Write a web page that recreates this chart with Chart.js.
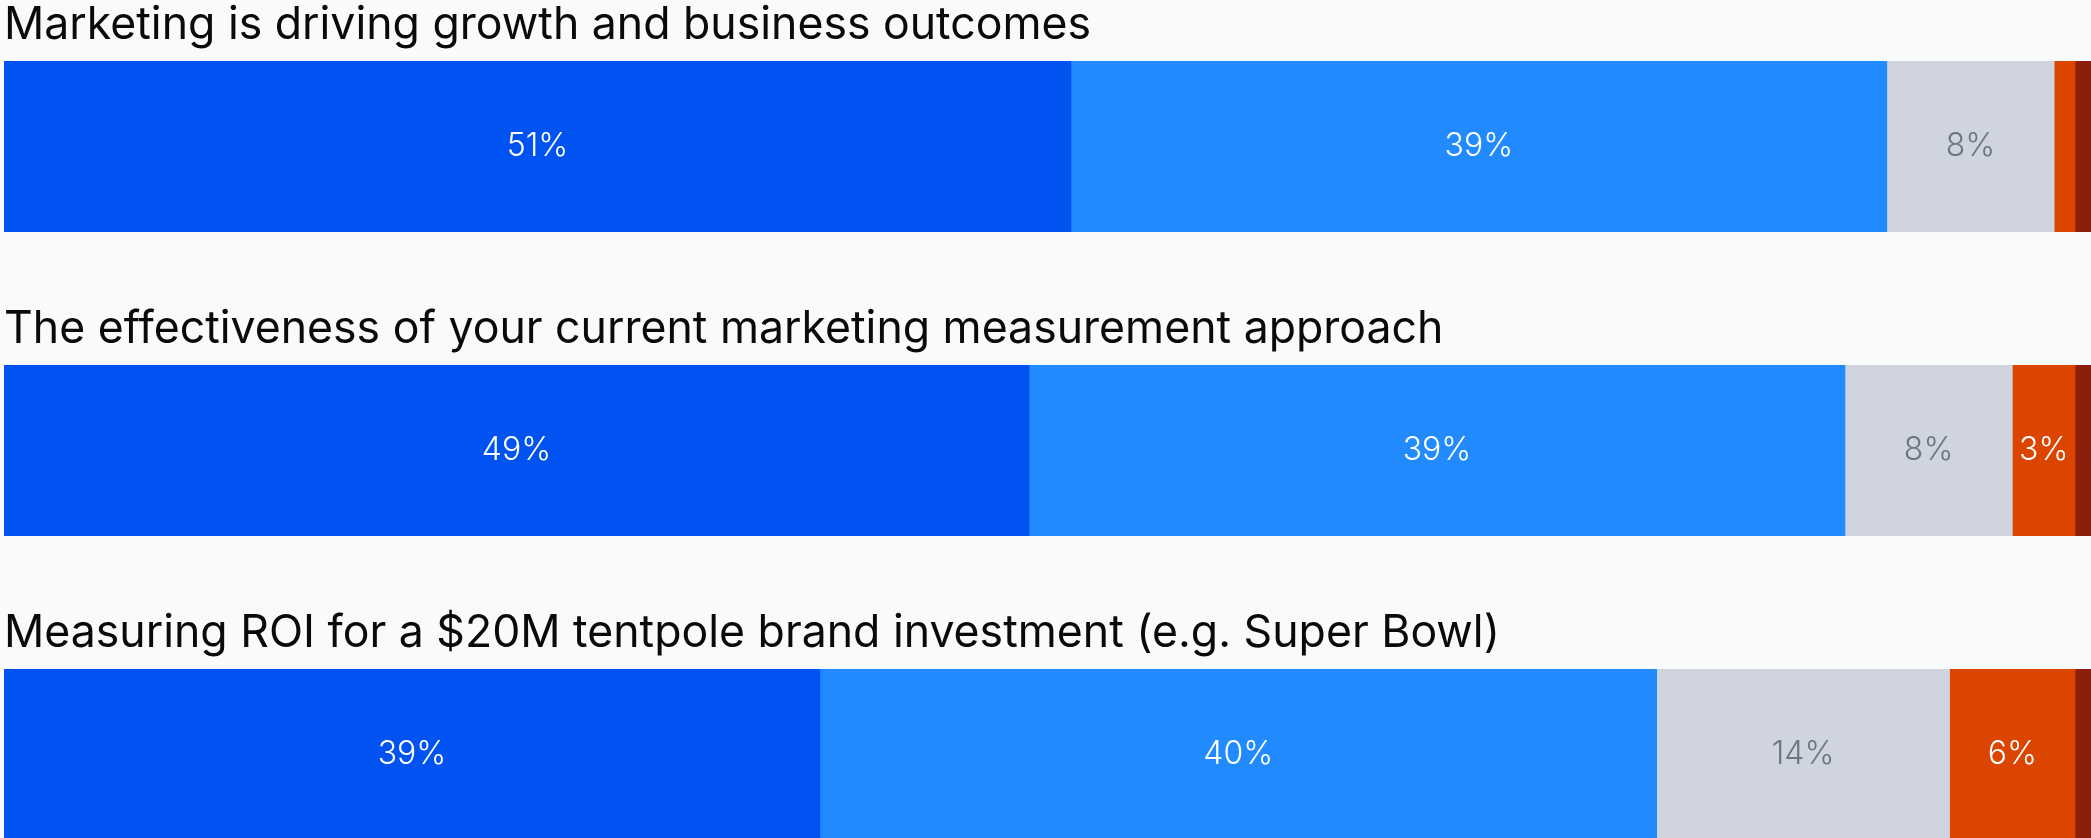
<!DOCTYPE html>
<html>
<head>
<meta charset="utf-8">
<script src="https://cdn.jsdelivr.net/npm/chart.js@4.4.1/dist/chart.umd.min.js"></script>
<style>
  html, body { margin: 0; padding: 0; background: #f9fafc; overflow: hidden; }
  .row { position: relative; width: 2096px; height: 304px; }
</style>
</head>
<body>
<div class="row"><canvas id="chart0"></canvas></div>
<div class="row"><canvas id="chart1"></canvas></div>
<div class="row"><canvas id="chart2"></canvas></div>
<script>
// Survey questions and share of responses (%) per answer level
const questions = [
    'Marketing is driving growth and business outcomes',
    'The effectiveness of your current marketing measurement approach',
    'Measuring ROI for a $20M tentpole brand investment (e.g. Super Bowl)'
];
const levels = ['Very confident', 'Confident', 'Neutral', 'Not confident', 'Not at all confident'];
const veryConfident = [51, 49, 39];
const confident = [39, 39, 40];
const neutral = [8, 8, 14];
const notConfident = [1, 3, 6];
const notAtAll = [1, 1, 1];

const series = [veryConfident, confident, neutral, notConfident, notAtAll];
const colors = ['#0052f1', '#218aff', '#d0d4df', '#dc4500', '#8c1e0d'];
const labelColors = ['#ffffff', '#ffffff', '#6b7585', '#ffffff', '#ffffff'];

// draws the percentage in the middle of each segment wide enough to hold it
const segmentLabels = {
    id: 'segmentLabels',
    afterDatasetsDraw(chart) {
        const ctx = chart.ctx;
        ctx.save();
        ctx.font = '300 32px Inter';
        ctx.textAlign = 'center';
        ctx.textBaseline = 'middle';
        chart.data.datasets.forEach((ds, i) => {
            chart.getDatasetMeta(i).data.forEach((bar, j) => {
                const v = ds.data[j];
                if (v < 3) return;
                const p = bar.getProps(['x', 'y', 'base'], true);
                ctx.fillStyle = labelColors[i];
                ctx.fillText(v + '%', (p.x + p.base) / 2, p.y);
            });
        });
        ctx.restore();
    }
};

questions.forEach((q, qi) => {
    new Chart(document.getElementById('chart' + qi), {
        type: 'bar',
        data: {
            labels: [q],
            datasets: series.map((s, i) => ({
                label: levels[i],
                data: [s[qi]],
                backgroundColor: colors[i],
                borderWidth: 0,
                barPercentage: 1,
                categoryPercentage: 1
            }))
        },
        options: {
            indexAxis: 'y',
            responsive: true,
            maintainAspectRatio: false,
            animation: false,
            layout: { padding: { left: 4, right: 0, top: 0, bottom: 72 } },
            scales: {
                x: { stacked: true, min: 0, max: 100, display: false },
                y: { stacked: true, display: false }
            },
            plugins: {
                legend: { display: false },
                tooltip: { enabled: false },
                title: {
                    display: true,
                    text: q,
                    align: 'start',
                    color: '#0a0a0a',
                    font: { family: 'Inter', size: 44.6, weight: '400', lineHeight: 1 },
                    padding: { top: 3, bottom: 13.4 }
                }
            }
        },
        plugins: [segmentLabels]
    });
});
</script>
</body>
</html>
